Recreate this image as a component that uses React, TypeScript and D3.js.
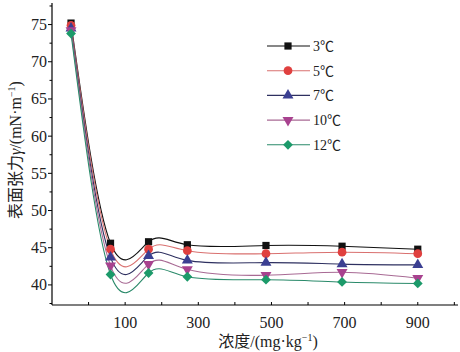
import * as d3 from 'd3';

// concentration (mg/kg) and surface tension per temperature
const conc = [-48, 60, 164, 270, 485, 693, 900];
const t3 = [75.2, 45.6, 45.8, 45.4, 45.3, 45.2, 44.8];
const t5 = [74.9, 44.8, 44.8, 44.6, 44.2, 44.4, 44.2];
const t7 = [74.5, 43.7, 43.9, 43.3, 43.0, 42.8, 42.7];
const t10 = [74.2, 42.6, 42.8, 42.1, 41.3, 41.7, 40.9];
const t12 = [73.8, 41.4, 41.6, 41.1, 40.7, 40.4, 40.2];

const seriesNames = ['3℃', '5℃', '7℃', '10℃', '12℃'];
const xTickLabels = [100, 300, 500, 700, 900];
const yTickLabels = [40, 45, 50, 55, 60, 65, 70, 75];

const styles = [
  { line: '#111', fill: '#111', shape: d3.symbolSquare, rot: 0, size: 52 },
  { line: '#d9706f', fill: '#e0403f', shape: d3.symbolCircle, rot: 0, size: 60 },
  { line: '#2e3060', fill: '#3b3f92', shape: d3.symbolTriangle, rot: 0, size: 52 },
  { line: '#a86a94', fill: '#a8428f', shape: d3.symbolTriangle, rot: 180, size: 52 },
  { line: '#2a8a6a', fill: '#1c9a6a', shape: d3.symbolSquare, rot: 45, size: 48 },
];

const W = 460, H = 352;
const left = 52, right = 458, top = 3, bottom = 305;

export default function App() {
  const all = [t3, t5, t7, t10, t12];
  const x = d3.scaleLinear().domain([-100, 1010]).range([left, right]);
  const y = d3.scaleLinear().domain([37.3, 77.9]).range([bottom, top]);
  const line = d3.line<number>()
    .x((_, i) => x(conc[i]))
    .y(d => y(d))
    .curve(d3.curveNatural);

  const xTicks = d3.range(0, 1001, 100);
  const yMinor = d3.range(37.5, 77.6, 2.5);
  const serif = '"Liberation Serif", "Times New Roman", serif';
  const cjk = '"Liberation Serif", "Noto Sans CJK SC", serif';

  return (
    <svg width={W} height={H} style={{ position: 'absolute', left: 0, top: 0, background: '#fff' }}>
      {all.map((s, k) => (
        <path key={'l' + k} d={line(s) || ''} fill="none" stroke={styles[k].line} strokeWidth={1.1} />
      ))}
      {all.map((s, k) =>
        s.map((v, i) => (
          <path key={`m${k}-${i}`}
            d={d3.symbol().type(styles[k].shape).size(styles[k].size)() || ''}
            transform={`translate(${x(conc[i])},${y(v)}) rotate(${styles[k].rot})`}
            fill={styles[k].fill} />
        ))
      )}

      {/* axes */}
      <line x1={left} x2={left} y1={top} y2={bottom} stroke="#000" strokeWidth={1.2} />
      <line x1={left} x2={right} y1={bottom} y2={bottom} stroke="#000" strokeWidth={1.2} />
      {yMinor.map(v => (
        <line key={'yt' + v} x1={left - (v % 5 === 0 ? 4 : 2.5)} x2={left} y1={y(v)} y2={y(v)} stroke="#000" />
      ))}
      {yTickLabels.map(v => (
        <text key={'yl' + v} x={left - 5} y={y(v) + 5.5} textAnchor="end" fontSize={16} fontFamily={serif} fill="#222">{v}</text>
      ))}
      {xTicks.map(v => (
        <line key={'xt' + v} x1={x(v)} x2={x(v)} y1={bottom} y2={bottom - 3} stroke="#000" />
      ))}
      {xTickLabels.map(v => (
        <text key={'xl' + v} x={x(v)} y={bottom + 23} textAnchor="middle" fontSize={16} fontFamily={serif} fill="#222">{v}</text>
      ))}

      <text x={268} y={347} textAnchor="middle" fontSize={16} fontFamily={cjk} fill="#222">
        浓度/(mg·kg<tspan dy={-6} fontSize={10}>−1</tspan><tspan dy={6}>)</tspan>
      </text>
      <text transform="translate(21,150) rotate(-90)" textAnchor="middle" fontSize={16} fontFamily={cjk} fill="#222">
        表面张力<tspan fontStyle="italic">γ</tspan>/(mN·m<tspan dy={-6} fontSize={10}>−1</tspan><tspan dy={6}>)</tspan>
      </text>

      {/* legend */}
      {seriesNames.map((n, k) => {
        const ly = 46 + k * 24.7;
        return (
          <g key={'lg' + k}>
            <line x1={267} x2={310} y1={ly} y2={ly} stroke={styles[k].line} strokeWidth={1.1} />
            <path d={d3.symbol().type(styles[k].shape).size(styles[k].size)() || ''}
              transform={`translate(288,${ly}) rotate(${styles[k].rot})`} fill={styles[k].fill} />
            <text x={313} y={ly + 5} fontSize={14} fontFamily={cjk} fill="#222">{n}</text>
          </g>
        );
      })}
    </svg>
  );
}
